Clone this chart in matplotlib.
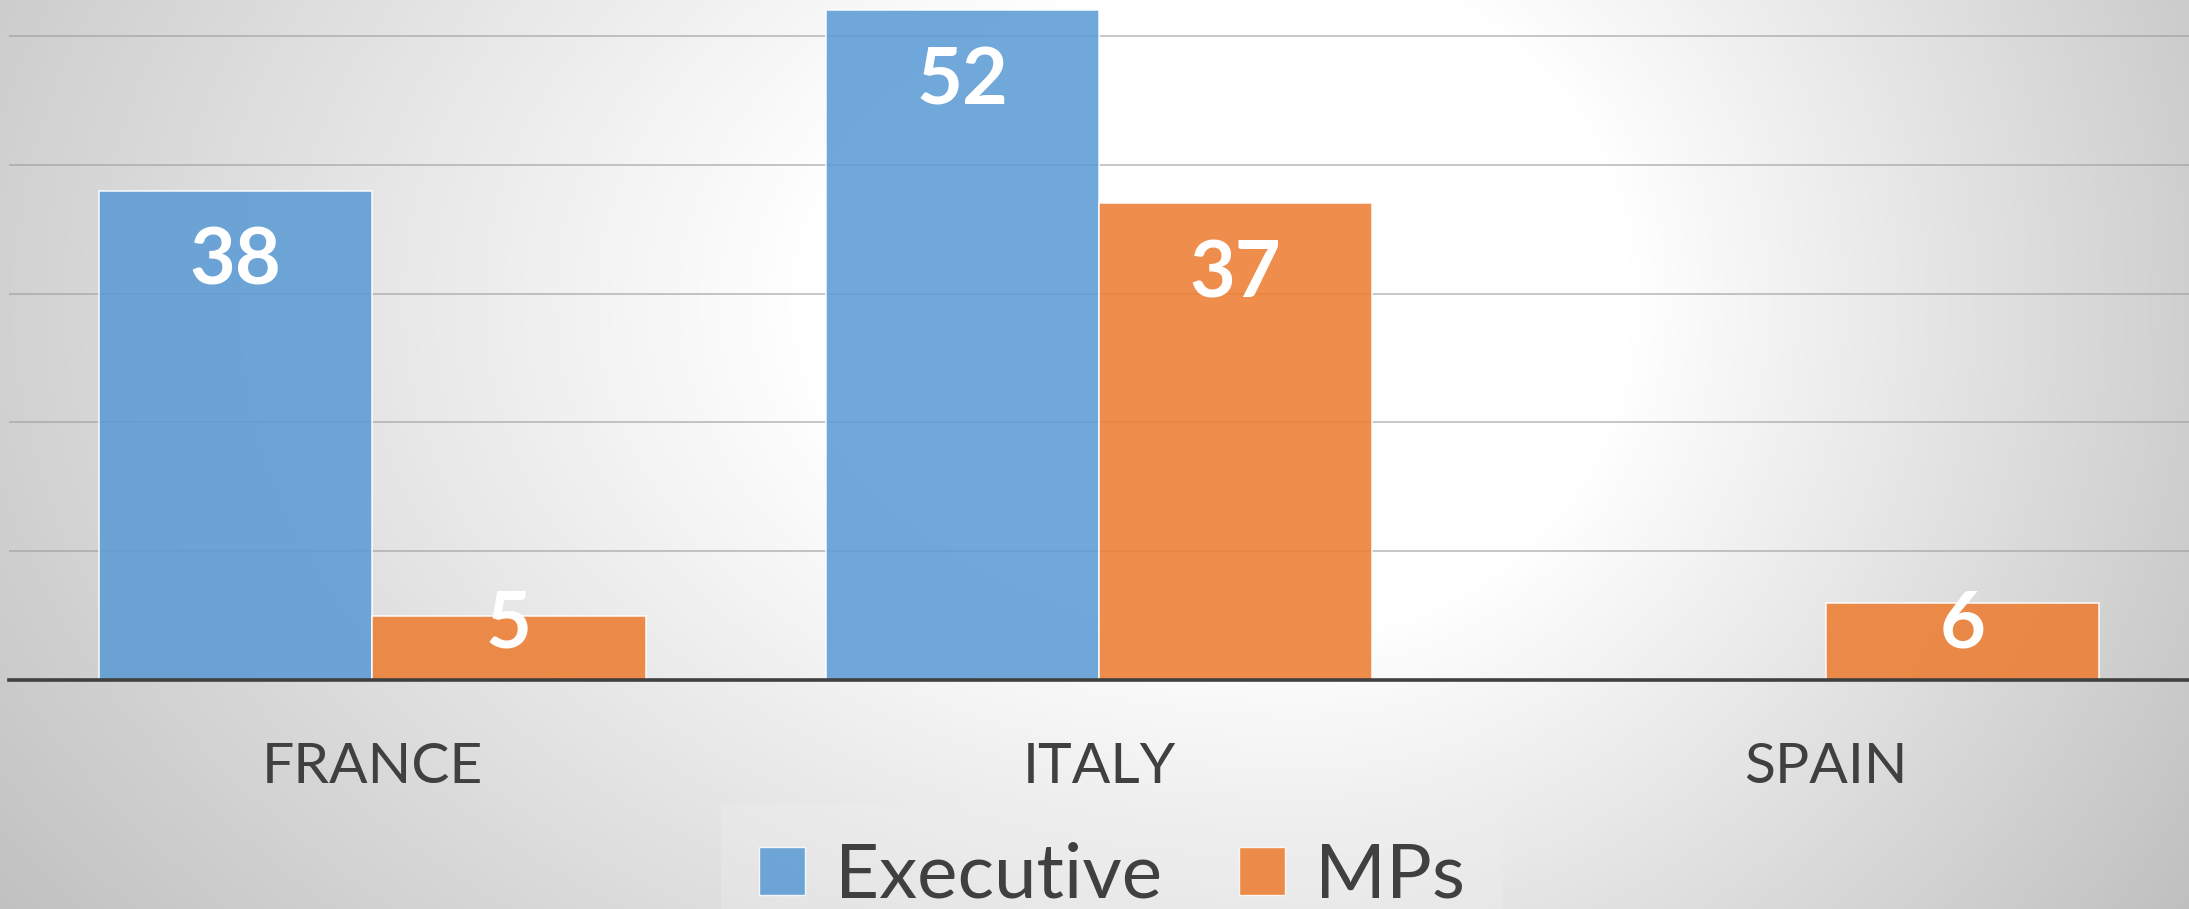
import numpy as np
import matplotlib
matplotlib.use("Agg")
import matplotlib.pyplot as plt
from matplotlib.patches import Patch

#chart data
countries = ["FRANCE", "ITALY", "SPAIN"]
series_names = ["Executive", "MPs"]
executive = [38, 52, 0]
mps = [5, 37, 6]

#excel-ish palette
blue = "#5B9BD5"
orange = "#ED7D31"
text_grey = "#404040"

plt.rcParams["font.family"] = ["Lato", "DejaVu Sans"]

W, H = 2189, 909
fig = plt.figure(figsize=(W / 100, H / 100), dpi=100)

#background: off-centre radial grey -> white gradient
bg = fig.add_axes([0, 0, 1, 1], zorder=-10)
yy, xx = np.mgrid[0:H, 0:W]
cx, cy = 1300, 300
dx = np.where(xx < cx, (xx - cx) / 1500.0, (xx - cx) / 1000.0)
dy = (yy - cy) / 1000.0
t = np.sqrt(dx ** 2 + dy ** 2)
v = 255 - 85 * np.clip(t - 0.33, 0, None)
img = np.dstack([v, v, v]) / 255.0
bg.imshow(np.clip(img, 0, 1), aspect="auto", extent=[0, 1, 0, 1])
bg.axis("off")

#main plot area
ax = fig.add_axes([9 / W, 229 / H, 2180 / W, 680 / H])
ax.set_facecolor("none")
px_per_unit = 12.88
ax.set_ylim(0, 680 / px_per_unit)
ax.set_xlim(-0.5, 2.5)

x = np.arange(len(countries))
width = 0.376

b1 = ax.bar(x - width / 2, executive, width, color=blue, alpha=0.87,
            edgecolor=(1, 1, 1, 0.6), linewidth=1.2, zorder=3)
b2 = ax.bar(x + width / 2, mps, width, color=orange, alpha=0.87,
            edgecolor=(1, 1, 1, 0.6), linewidth=1.2, zorder=3)

#value labels, white bold, inside end (clamped above the axis for short bars)
for bars, vals in [(b1, executive), (b2, mps)]:
    for rect, val in zip(bars, vals):
        if val == 0:
            continue
        ypos = max(val - 7.3, 2.52)
        ax.text(rect.get_x() + rect.get_width() / 2, ypos, str(val),
                ha="center", va="baseline", color="white",
                fontsize=57, fontweight="bold", zorder=5)

#gridlines
ax.set_yticks([10, 20, 30, 40, 50])
ax.yaxis.grid(True, color="#9a9a9a", alpha=0.6, linewidth=1.3)
ax.set_axisbelow(True)
ax.tick_params(axis="y", left=False, labelleft=False)

for s in ["top", "right", "left"]:
    ax.spines[s].set_visible(False)
ax.spines["bottom"].set_color(text_grey)
ax.spines["bottom"].set_linewidth(2.6)
ax.spines["bottom"].set_zorder(6)

ax.set_xticks(x, countries)
ax.tick_params(axis="x", length=0, pad=74, labelsize=41, labelcolor=text_grey)
plt.setp(ax.get_xticklabels(), va="baseline")

#legend
handles = [Patch(facecolor=blue, alpha=0.87, edgecolor=(1, 1, 1, 0.6)),
           Patch(facecolor=orange, alpha=0.87, edgecolor=(1, 1, 1, 0.6))]
leg = fig.legend(handles, series_names, loc="center", bbox_to_anchor=(0.508, 0.036),
                 ncol=2, fontsize=55, handlelength=0.6, handleheight=0.6,
                 handletextpad=0.4, columnspacing=1.0, frameon=True,
                 borderpad=0.5, borderaxespad=0, fancybox=False)
leg.get_frame().set_facecolor("#efefef")
leg.get_frame().set_alpha(0.35)
leg.get_frame().set_edgecolor("none")
for txt in leg.get_texts():
    txt.set_color(text_grey)

fig.savefig("out.png", dpi=100)
